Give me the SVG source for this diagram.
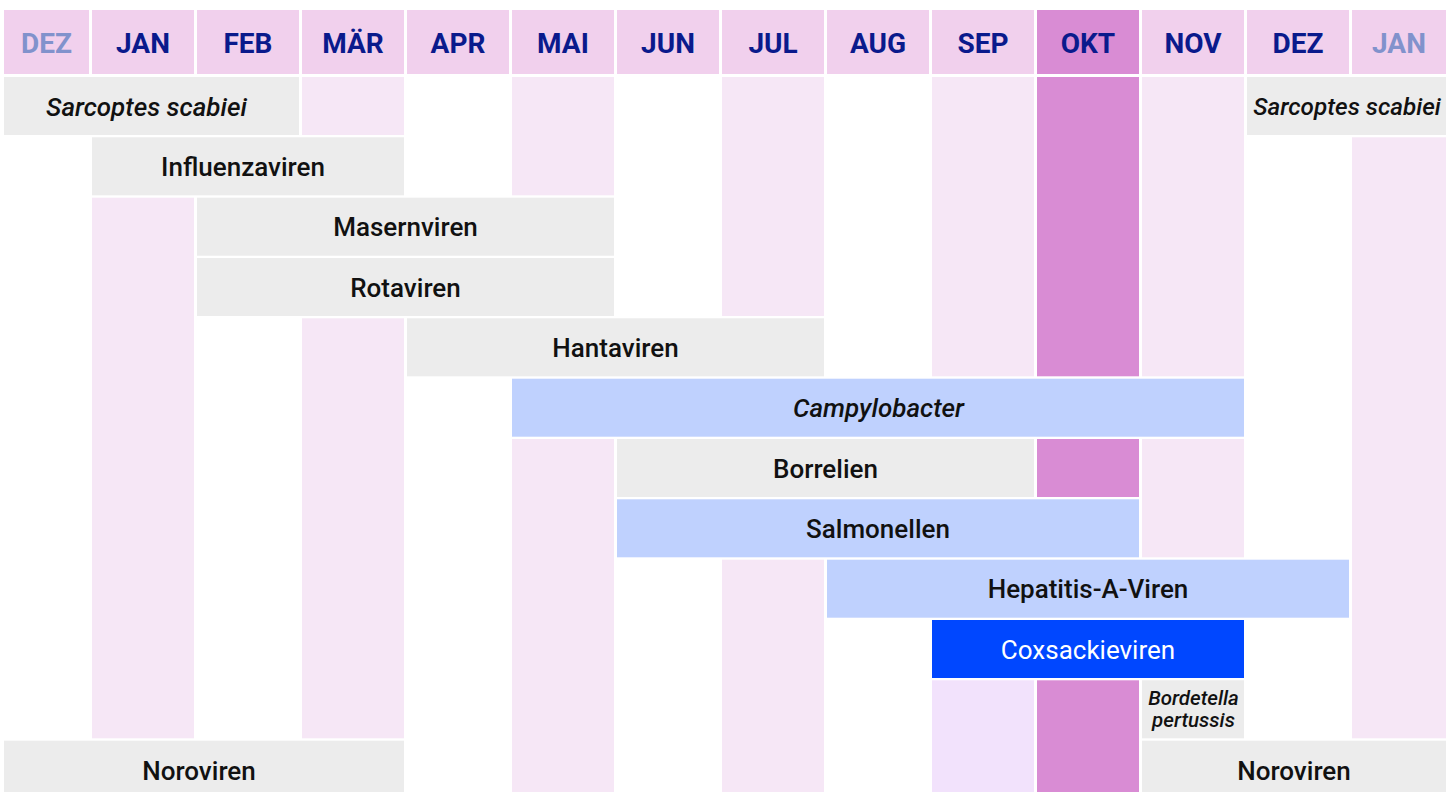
<svg xmlns="http://www.w3.org/2000/svg" width="1456" height="792" viewBox="0 0 1456 792">
<style>
.hd{fill:#f1d0ed}
.hdk{fill:#d98cd4}
.ht{font-family:Roboto,"Liberation Sans",sans-serif;font-weight:700;font-size:28px;fill:#0a1a8c;text-anchor:middle}
.hf{fill:#8192cc}
.pk{fill:#f6e7f6}
.dk{fill:#d98cd4}
.lv{fill:#f2e2fc}
.gr{fill:#ececec}
.lb{fill:#bfd1fe}
.bl{fill:#0047ff}
.t{font-family:Roboto,"Liberation Sans",sans-serif;font-weight:500;font-size:26px;fill:#111;text-anchor:middle}
.it{font-style:italic}
.w{fill:#ffffff;font-weight:400}
.sm{font-size:20.5px}
</style>
<rect width="1456" height="792" fill="#ffffff"/>
<g id="header">
<rect class="hd" x="4" y="10" width="85" height="64"/>
<rect class="hd" x="92" y="10" width="102" height="64"/>
<rect class="hd" x="197" y="10" width="102" height="64"/>
<rect class="hd" x="302" y="10" width="102" height="64"/>
<rect class="hd" x="407" y="10" width="102" height="64"/>
<rect class="hd" x="512" y="10" width="102" height="64"/>
<rect class="hd" x="617" y="10" width="102" height="64"/>
<rect class="hd" x="722" y="10" width="102" height="64"/>
<rect class="hd" x="827" y="10" width="102" height="64"/>
<rect class="hd" x="932" y="10" width="102" height="64"/>
<rect class="hdk" x="1037" y="10" width="102" height="64"/>
<rect class="hd" x="1142" y="10" width="102" height="64"/>
<rect class="hd" x="1247" y="10" width="102" height="64"/>
<rect class="hd" x="1352" y="10" width="94" height="64"/>
<text class="ht hf" x="46.5" y="53.3">DEZ</text>
<text class="ht" x="143" y="53.3">JAN</text>
<text class="ht" x="248" y="53.3">FEB</text>
<text class="ht" x="353" y="53.3">MÄR</text>
<text class="ht" x="458" y="53.3">APR</text>
<text class="ht" x="563" y="53.3">MAI</text>
<text class="ht" x="668" y="53.3">JUN</text>
<text class="ht" x="773" y="53.3">JUL</text>
<text class="ht" x="878" y="53.3">AUG</text>
<text class="ht" x="983" y="53.3">SEP</text>
<text class="ht" x="1088" y="53.3">OKT</text>
<text class="ht" x="1193" y="53.3">NOV</text>
<text class="ht" x="1298" y="53.3">DEZ</text>
<text class="ht hf" x="1399" y="53.3">JAN</text>
</g>
<g id="background">
<rect class="pk" x="92" y="197.7" width="102" height="540.6"/>
<rect class="pk" x="302" y="77" width="102" height="58"/>
<rect class="pk" x="302" y="318.3" width="102" height="420"/>
<rect class="pk" x="512" y="77" width="102" height="118.3"/>
<rect class="pk" x="512" y="439" width="102" height="353"/>
<rect class="pk" x="722" y="77" width="102" height="239"/>
<rect class="pk" x="722" y="559.7" width="102" height="232.3"/>
<rect class="pk" x="932" y="77" width="102" height="299.3"/>
<rect class="lv" x="932" y="680.3" width="102" height="111.7"/>
<rect class="dk" x="1037" y="77" width="102" height="299.3"/>
<rect class="dk" x="1037" y="439" width="102" height="58"/>
<rect class="dk" x="1037" y="680.3" width="102" height="111.7"/>
<rect class="pk" x="1142" y="77" width="102" height="299.3"/>
<rect class="pk" x="1142" y="439" width="102" height="118.3"/>
<rect class="pk" x="1352" y="137.3" width="94" height="601"/>
</g>
<g id="sarcoptes-left">
<rect class="gr" x="4" y="77" width="295" height="58"/>
<text class="t it" x="146.5" y="115.5">Sarcoptes scabiei</text>
</g>
<g id="sarcoptes-right">
<rect class="gr" x="1247" y="77" width="199" height="58"/>
<text class="t it" x="1347" y="115" style="font-size:24.3px">Sarcoptes scabiei</text>
</g>
<g id="influenzaviren">
<rect class="gr" x="92" y="137.3" width="312" height="58"/>
<text class="t" x="243" y="175.8">Influenzaviren</text>
</g>
<g id="masernviren">
<rect class="gr" x="197" y="197.7" width="417" height="58"/>
<text class="t" x="405.5" y="236.2">Masernviren</text>
</g>
<g id="rotaviren">
<rect class="gr" x="197" y="258" width="417" height="58"/>
<text class="t" x="405.5" y="296.5">Rotaviren</text>
</g>
<g id="hantaviren">
<rect class="gr" x="407" y="318.3" width="417" height="58"/>
<text class="t" x="615.5" y="356.8">Hantaviren</text>
</g>
<g id="campylobacter">
<rect class="lb" x="512" y="378.7" width="732" height="58"/>
<text class="t it" x="878.5" y="417.2">Campylobacter</text>
</g>
<g id="borrelien">
<rect class="gr" x="617" y="439" width="417" height="58"/>
<text class="t" x="825.5" y="477.5">Borrelien</text>
</g>
<g id="salmonellen">
<rect class="lb" x="617" y="499.3" width="522" height="58"/>
<text class="t" x="878" y="537.8">Salmonellen</text>
</g>
<g id="hepatitis-a-viren">
<rect class="lb" x="827" y="559.7" width="522" height="58"/>
<text class="t" x="1088" y="598.2">Hepatitis-A-Viren</text>
</g>
<g id="coxsackieviren">
<rect class="bl" x="932" y="620" width="312" height="58"/>
<text class="t w" x="1088" y="658.5">Coxsackieviren</text>
</g>
<g id="bordetella-pertussis">
<rect class="gr" x="1142" y="680.3" width="102" height="58"/>
<text class="t it sm" x="1193.5" y="705">Bordetella</text>
<text class="t it sm" x="1193.5" y="727">pertussis</text>
</g>
<g id="noroviren-left">
<rect class="gr" x="4" y="740.7" width="400" height="51.3"/>
<text class="t" x="199" y="780">Noroviren</text>
</g>
<g id="noroviren-right">
<rect class="gr" x="1142" y="740.7" width="304" height="51.3"/>
<text class="t" x="1294" y="780">Noroviren</text>
</g>
</svg>
